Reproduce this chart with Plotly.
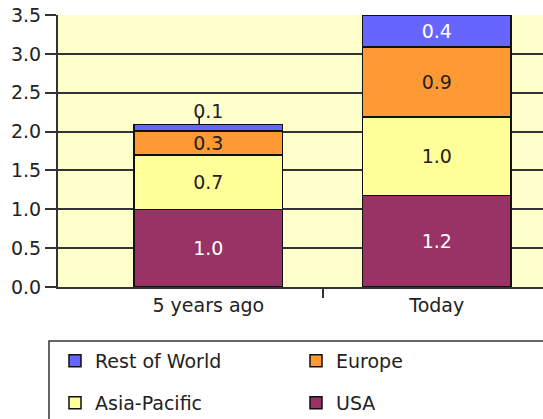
import plotly.graph_objects as go

categories = ["5 years ago", "Today"]
usa = [1.0, 1.18]
asia_pacific = [0.7, 1.01]
europe = [0.31, 0.9]
rest_of_world = [0.08, 0.41]

colors = {
    "USA": "#993366",
    "Asia-Pacific": "#FFFF99",
    "Europe": "#FF9933",
    "Rest of World": "#6666FF",
}

FONT = "DejaVu Sans"
FS = 19
xs = list(range(len(categories)))

W, H = 543, 419
L, R, T, B = 58, 0, 15, 419 - 287
plot_w = W - L - R
plot_h = H - T - B


def px_to_paper_x(p):
    return (p - L) / plot_w


def px_to_paper_y(p):
    return (H - B - p) / plot_h


fig = go.Figure()

# (name, values, legend id, text colours, text positions, legend box left px, legend top px)
series = [
    ("USA", usa, "legend4", ["white", "white"], ["inside", "inside"], 296, 384),
    ("Asia-Pacific", asia_pacific, "legend3", ["#222", "#222"], ["inside", "inside"], 55, 384),
    ("Europe", europe, "legend2", ["#222", "#222"], ["inside", "inside"], 296, 342),
    ("Rest of World", rest_of_world, "legend", ["#222", "white"], ["outside", "inside"], 55, 342),
]

legends = {}
for name, vals, leg, tcol, tpos, lx, ly in series:
    fig.add_trace(go.Bar(
        name=name,
        x=xs,
        y=vals,
        width=0.65,
        marker=dict(color=colors[name], line=dict(color="#111", width=1.5)),
        text=vals,
        texttemplate="%{y:.1f}",
        textposition=tpos,
        insidetextanchor="middle",
        textfont=dict(family=FONT, size=FS, color=tcol),
        constraintext="none",
        cliponaxis=False,
        legend=leg,
    ))
    legends[leg] = dict(x=px_to_paper_x(lx), y=px_to_paper_y(ly), xanchor="left", yanchor="top",
                        font=dict(family=FONT, size=FS, color="#222"),
                        bgcolor="rgba(0,0,0,0)", borderwidth=0)

# leader line for the small outside label
tot0 = usa[0] + asia_pacific[0] + europe[0] + rest_of_world[0]
fig.add_annotation(x=xs[0] - 0.04, y=tot0, ax=0, ay=-9, text="", showarrow=True,
                   arrowhead=0, arrowwidth=1.5, arrowcolor="#111", xref="x", yref="y")

# legend frame
fig.add_shape(type="rect", xref="paper", yref="paper",
              x0=px_to_paper_x(49), x1=px_to_paper_x(560),
              y0=px_to_paper_y(341), y1=px_to_paper_y(440),
              line=dict(color="#333", width=1.5), fillcolor="rgba(0,0,0,0)")

fig.update_layout(
    width=W, height=H,
    margin=dict(l=L, r=R, t=T, b=B, autoexpand=False),
    paper_bgcolor="white",
    plot_bgcolor="#FFFFCC",
    barmode="stack",
    font=dict(family=FONT, size=FS, color="#222"),
    uniformtext=dict(minsize=FS, mode="show"),
    showlegend=True,
    xaxis=dict(
        range=[-0.658, 1.465],
        tickvals=xs, ticktext=categories,
        ticks="", showgrid=False, zeroline=False,
        showline=True, linecolor="#333", linewidth=2,
        minor=dict(tickvals=[0.5], ticks="outside", ticklen=9, tickcolor="#333", tickwidth=2),
        tickfont=dict(family=FONT, size=FS, color="#222"),
    ),
    yaxis=dict(
        range=[0, 3.5], dtick=0.5, tickformat=".1f",
        showgrid=True, gridcolor="#333", gridwidth=2,
        zeroline=False,
        showline=True, linecolor="#333", linewidth=2,
        ticks="outside", ticklen=11, tickcolor="#333", tickwidth=2,
        tickfont=dict(family=FONT, size=FS, color="#222"),
    ),
    **legends,
)

fig.write_html(
    "out.html",
    config={"displayModeBar": False},
    post_script="document.body.style.margin='0';document.body.style.overflow='hidden';",
)
